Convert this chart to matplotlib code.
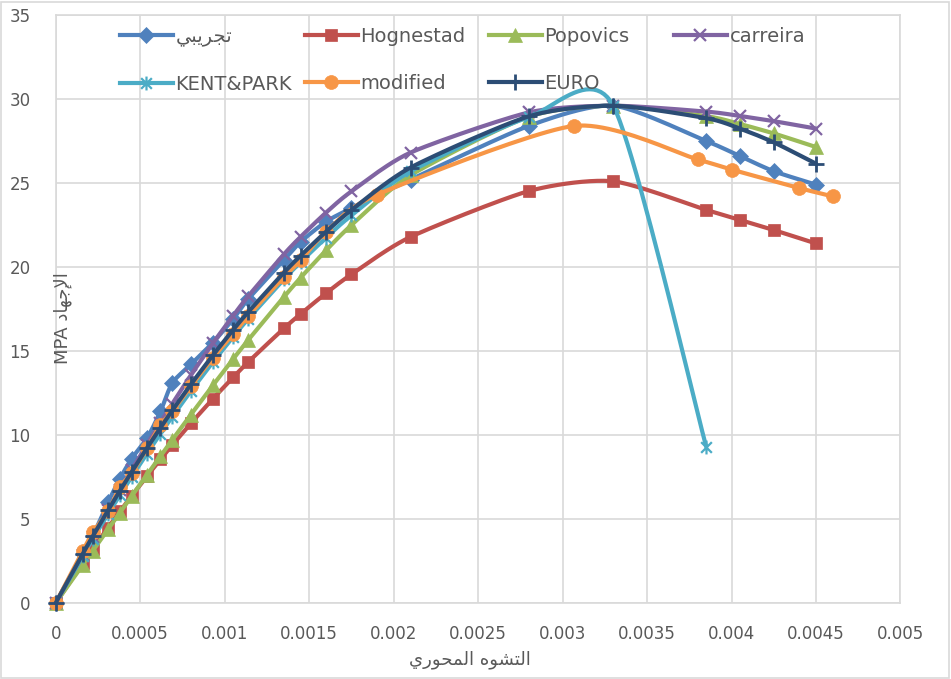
import numpy as np
import matplotlib
matplotlib.use("Agg")
import matplotlib.pyplot as plt
from matplotlib.lines import Line2D
from matplotlib.path import Path
from matplotlib.patches import Rectangle

plt.rcParams['font.family'] = ['DejaVu Sans']

# strain shared by most series
strain = [0, 0.00016, 0.00022, 0.00031, 0.00038, 0.00045, 0.00054, 0.00062,
          0.00069, 0.0008, 0.00093, 0.00105, 0.00114, 0.00135, 0.00145, 0.0016,
          0.00175, 0.0021, 0.0028, 0.0033, 0.00385, 0.00405, 0.00425, 0.0045]

exp_stress = [0, 2.9, 4.0, 6.0, 7.4, 8.6, 9.8, 11.4, 13.1, 14.2, 15.5, 16.9,
              18.1, 20.4, 21.5, 22.7, 23.5, 25.2, 28.4, 29.6, 27.5, 26.6, 25.7, 24.9]
hognestad = [0, 2.37, 3.24, 4.49, 5.45, 6.38, 7.54, 8.55, 9.40, 10.69, 12.15, 13.43,
             14.35, 16.34, 17.21, 18.44, 19.56, 21.79, 24.52, 25.1, 23.4, 22.8, 22.2, 21.4]
popovics = [0, 2.27, 3.12, 4.39, 5.38, 6.37, 7.63, 8.74, 9.71, 11.21, 12.95, 14.52,
            15.66, 18.21, 19.37, 20.99, 22.49, 25.46, 28.95, 29.6, 28.98, 28.51, 27.95, 27.14]
carreira = [0, 2.86, 3.93, 5.51, 6.73, 7.93, 9.43, 10.74, 11.86, 13.56, 15.46, 17.10,
            18.27, 20.75, 21.80, 23.24, 24.50, 26.81, 29.20, 29.6, 29.25, 28.99, 28.68, 28.24]
kent_park = [0, 2.80, 3.82, 5.30, 6.42, 7.52, 8.89, 10.08, 11.09, 12.61, 14.33, 15.84,
             16.92, 19.26, 20.30, 21.74, 23.07, 25.69, 28.92, 29.6, 9.3]
euro = [0, 2.93, 3.98, 5.52, 6.68, 7.81, 9.22, 10.43, 11.46, 13.01, 14.74, 16.26,
        17.33, 19.66, 20.68, 22.10, 23.39, 25.92, 28.97, 29.6, 28.86, 28.24, 27.42, 26.15]

mod_strain = [0, 0.00016, 0.00022, 0.00031, 0.00038, 0.00045, 0.00054, 0.00062,
              0.00069, 0.0008, 0.00093, 0.00105, 0.00114, 0.00135, 0.00145, 0.0016,
              0.0019, 0.00307, 0.0038, 0.004, 0.0044, 0.0046]
modified = [0, 3.1, 4.2, 5.45, 6.9, 7.75, 9.2, 10.6, 11.4, 12.9, 14.6, 16.0, 17.1,
            19.4, 20.4, 22.1, 24.3, 28.4, 26.4, 25.8, 24.7, 24.2]

# Arabic labels written in visual (shaped) order
lbl_exp = "\uFEF2\uFE92\uFEF3\uFEAE\uFEA0\uFE97"          # تجريبي
xlabel = "\uFEF1\uFEAD\uFEEE\uFEA4\uFEE4\uFEDF\uFE8D \uFEE9\uFEEE\uFEB8\uFE98\uFEDF\uFE8D"  # التشوه المحوري
ylabel = "MPA \uFEA9\uFE8E\uFEEC\uFE9F\uFEF9\uFE8D"        # الإجهاد MPA

xticks = [0, 0.0005, 0.001, 0.0015, 0.002, 0.0025, 0.003, 0.0035, 0.004, 0.0045, 0.005]
xtick_labels = ['0', '0.0005', '0.001', '0.0015', '0.002', '0.0025', '0.003',
                '0.0035', '0.004', '0.0045', '0.005']
yticks = [0, 5, 10, 15, 20, 25, 30, 35]

star = Path([(-1, -1), (1, 1), (-1, 1), (1, -1), (0, -1.3), (0, 1.3)],
            [Path.MOVETO, Path.LINETO, Path.MOVETO, Path.LINETO, Path.MOVETO, Path.LINETO])


def smooth(xs, ys, k=0.12, n=24):
    # Bezier smoothing similar to Excel's smoothed lines
    pts = np.column_stack([xs, ys]).astype(float)
    ext = np.vstack([pts[0], pts, pts[-1]])
    out = [pts[0]]
    t = np.linspace(0, 1, n)[1:, None]
    for i in range(len(pts) - 1):
        p0, p1, p2, p3 = ext[i], ext[i + 1], ext[i + 2], ext[i + 3]
        c1 = p1 + (p2 - p0) * k
        c2 = p2 - (p3 - p1) * k
        seg = (1 - t) ** 3 * p1 + 3 * (1 - t) ** 2 * t * c1 + 3 * (1 - t) * t ** 2 * c2 + t ** 3 * p2
        out.extend(seg)
    out = np.array(out)
    return out[:, 0], out[:, 1]


W, H = 951, 679
fig = plt.figure(figsize=(W / 100, H / 100), dpi=100)
ax = fig.add_axes([55.7 / W, 76 / H, (900.5 - 55.7) / W, (603 - 15) / H])

series = [
    (lbl_exp, strain, exp_stress, '#4F81BD', 'D', 8, {}),
    ('Hognestad', strain, hognestad, '#C0504D', 's', 9, {}),
    ('Popovics', strain, popovics, '#9BBB59', '^', 9.5, {}),
    ('carreira', strain, carreira, '#8064A2', 'x', 9, {'mew': 1.6}),
    ('KENT&PARK', strain[:len(kent_park)], kent_park, '#4BACC6', star, 10, {'mew': 1.6}),
    ('modified', mod_strain, modified, '#F79646', 'o', 10, {}),
    ('EURO', strain, euro, '#2C4D75', '+', 12, {'mew': 2.0}),
]

handles = []
for i, (lab, xs, ys, col, mk, ms, extra) in enumerate(series):
    sx, sy = smooth(xs, ys)
    ax.plot(sx, sy, color=col, lw=3, solid_capstyle='round', zorder=3 + i, clip_on=False)
    mew = extra.get('mew', 0.5)
    ax.plot(xs, ys, ls='none', marker=mk, ms=ms, color=col, mec=col, mew=mew,
            zorder=3 + i, clip_on=False)
    handles.append(Line2D([], [], color=col, lw=3, marker=mk, ms=ms, mec=col, mew=mew, label=lab))

ax.set_xlim(0, 0.005)
ax.set_ylim(0, 35)
ax.set_xticks(xticks)
ax.set_xticklabels(xtick_labels)
ax.set_yticks(yticks)
ax.grid(True, color='#D9D9D9', lw=1.2, zorder=0)
ax.set_axisbelow(True)
for s in ax.spines.values():
    s.set_color('#D9D9D9')
    s.set_linewidth(1.2)
ax.tick_params(length=0, colors='#595959', labelsize=12)
ax.tick_params(axis='x', pad=16)
ax.tick_params(axis='y', pad=18)

fig.text(470 / W, 1 - 660 / H, xlabel, ha='center', va='center', fontsize=13, color='#595959')
fig.text(63 / W, 1 - 318 / H, ylabel, ha='center', va='center', rotation=90,
         fontsize=13, color='#595959')

cols = [[0, 4], [1, 5], [2, 6], [3]]
col_x = [120, 305, 489, 674]
for idx, cx in zip(cols, col_x):
    fig.legend(handles=[handles[j] for j in idx], loc='upper left',
               bbox_to_anchor=(cx / W, 1 - 27 / H), frameon=False, borderpad=0,
               borderaxespad=0, handlelength=2.7, handletextpad=0.15,
               labelspacing=1.45, fontsize=14, labelcolor='#595959')

fig.patches.append(Rectangle((1 / W, 1 / H), (W - 3) / W, (H - 3) / H, transform=fig.transFigure,
                             fill=False, edgecolor='#D9D9D9', lw=1.2))

fig.savefig('out.png', dpi=100)
